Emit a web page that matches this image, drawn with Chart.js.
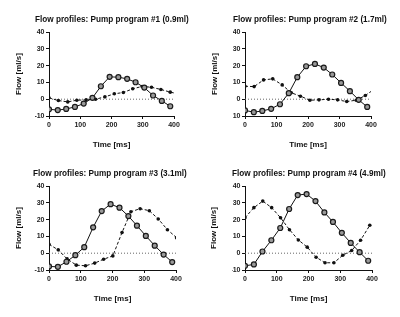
<!DOCTYPE html>
<html>
<head>
<meta charset="utf-8">
<script src="https://cdn.jsdelivr.net/npm/chart.js@4.4.1/dist/chart.umd.min.js"></script>
<style>
  html, body { margin: 0; padding: 0; background: #fff; }
  #wrap { position: relative; width: 400px; height: 317px; overflow: hidden; }
  .panel { position: absolute; }
</style>
</head>
<body>
<div id="wrap">
  <div class="panel" style="left:0;top:0;width:200px;height:154px;"><canvas id="c1"></canvas></div>
  <div class="panel" style="left:200px;top:0;width:200px;height:154px;"><canvas id="c2"></canvas></div>
  <div class="panel" style="left:0;top:154px;width:200px;height:163px;"><canvas id="c3"></canvas></div>
  <div class="panel" style="left:200px;top:154px;width:200px;height:163px;"><canvas id="c4"></canvas></div>
</div>
<script>
// ---- data ----
const titles = [
  'Flow profiles: Pump program #1 (0.9ml)',
  'Flow profiles: Pump program #2 (1.7ml)',
  'Flow profiles: Pump program #3 (3.1ml)',
  'Flow profiles: Pump program #4 (4.9ml)'
];

const xTicks = [0, 100, 200, 300, 400];
const yTicks = [-10, 0, 10, 20, 30, 40];

// solid series (grey circles), same time base in every panel
const solidTimes = [0, 28, 55, 83, 111, 139, 166, 194, 222, 250, 277, 305, 333, 361, 388];
const solid1 = [-6, -6.5, -5.8, -4.6, -2.6, 0.8, 7.7, 13.3, 13.1, 12.1, 10.1, 6.9, 2.2, -1, -4.2];
const solid2 = [-6.7, -7.7, -7, -5.7, -3, 3.6, 13.1, 19.6, 21, 18.8, 14.7, 9.7, 4.8, -0.4, -4.6];
const solid3 = [-7.9, -8.1, -5.1, -1.2, 3.6, 15.4, 25.1, 29.2, 27.1, 22.1, 16.4, 10.3, 4.5, -0.8, -5.3];
const solid4 = [-7.5, -6.7, 1, 7.7, 15, 26.3, 34.6, 35.2, 31, 24.3, 18.6, 12.1, 6.1, 0.6, -4.5];

// dashed series (small black dots)
const dashedTimes1 = [0, 30, 60, 89, 119, 149, 179, 209, 238, 268, 298, 328, 358, 388, 418];
const dashed1 = [0.8, -0.8, -1.6, -0.6, -0.4, 0, 1.4, 3.2, 4, 6.2, 7.6, 7.1, 5.8, 4.2, 3];
const dashedTimes2 = [0, 29, 59, 88, 118, 147, 176, 206, 235, 265, 294, 323, 353, 382, 412];
const dashed2 = [7.7, 7.5, 11.5, 12.1, 8.5, 3.8, 1.8, -0.6, -0.4, 0, -0.4, -1.4, -0.6, 2.2, 6.2];
const dashedTimes3 = [0, 29, 57, 86, 115, 144, 172, 201, 230, 258, 287, 316, 344, 373, 402];
const dashed3 = [5.3, 2, -3.4, -7.1, -7.5, -5.9, -3.6, -1.6, 12.3, 24.7, 26.5, 25.3, 20.4, 14, 9.2];
const dashedTimes4 = [0, 28, 56, 84, 112, 140, 168, 196, 224, 252, 280, 308, 336, 364, 393];
const dashed4 = [21.1, 27.1, 31, 27.1, 21.1, 14, 7.9, 3.6, -2.4, -5.7, -5.7, -1.2, 1.6, 7.7, 16.6];

const zeroLine = [0, 0];
const zeroTimes = [0, 400];

// ---- placement per panel ----
// titleLeft: where the title text starts, chartLeft: left edge of the plot area
const panels = [
  { id: 'c1', solid: solid1, dTimes: dashedTimes1, dashed: dashed1, titleLeft: 35, chartLeft: 49, right: 26, xAxisH: 38, xTitlePad: 4.2, yTitleX: 18.3 },
  { id: 'c2', solid: solid2, dTimes: dashedTimes2, dashed: dashed2, titleLeft: 33, chartLeft: 45, right: 29, xAxisH: 38, xTitlePad: 4.2, yTitleX: 15 },
  { id: 'c3', solid: solid3, dTimes: dashedTimes3, dashed: dashed3, titleLeft: 33, chartLeft: 49, right: 24, xAxisH: 47, xTitlePad: 13.2, yTitleX: 18.3 },
  { id: 'c4', solid: solid4, dTimes: dashedTimes4, dashed: dashed4, titleLeft: 32, chartLeft: 45, right: 28, xAxisH: 47, xTitlePad: 13.2, yTitleX: 14 }
];

const FONT = "'Liberation Sans', Arial, sans-serif";
const AXIS_TITLE_SIZE = 8;
const pts = (xs, ys) => xs.map((x, i) => ({ x, y: ys[i] }));

panels.forEach((p, idx) => {
  const yAxisW = p.chartLeft - p.titleLeft;
  // y title centre = scale.left + lineHeight/2 + padding.top
  const yTitlePad = p.yTitleX - p.titleLeft - AXIS_TITLE_SIZE * 1.2 / 2;

  new Chart(document.getElementById(p.id), {
    type: 'line',
    data: {
      datasets: [
        {
          data: pts(zeroTimes, zeroLine),
          borderColor: '#666',
          borderWidth: 1,
          borderDash: [1, 2],
          pointRadius: 0,
          fill: false,
          order: 3
        },
        {
          data: pts(p.dTimes, p.dashed),
          borderColor: '#111',
          borderWidth: 1,
          borderDash: [3, 2],
          pointRadius: 1.8,
          pointBackgroundColor: '#111',
          pointBorderWidth: 0,
          fill: false,
          order: 2
        },
        {
          data: pts(solidTimes, p.solid),
          borderColor: '#111',
          borderWidth: 1,
          pointRadius: 2.5,
          pointBackgroundColor: '#999',
          pointBorderColor: '#1a1a1a',
          pointBorderWidth: 1.2,
          fill: false,
          order: 1
        }
      ]
    },
    options: {
      responsive: true,
      maintainAspectRatio: false,
      animation: false,
      events: [],
      layout: { padding: { left: p.titleLeft, right: 0, top: 0, bottom: 0 } },
      plugins: {
        legend: { display: false },
        tooltip: { enabled: false },
        title: {
          display: true,
          text: titles[idx],
          align: 'start',
          color: '#111',
          font: { family: FONT, size: 8.2, weight: 'bold' },
          padding: { top: 15.1, bottom: 7.06 }
        }
      },
      scales: {
        x: {
          type: 'linear',
          min: 0,
          max: 400,
          afterFit: s => { s.height = p.xAxisH; },
          afterBuildTicks: s => { s.ticks = xTicks.map(v => ({ value: v })); },
          border: { color: '#111', width: 1 },
          grid: { drawOnChartArea: false, tickLength: 3, color: '#111', lineWidth: 1 },
          ticks: { color: '#222', padding: 2, maxRotation: 0, font: { family: FONT, size: 7, weight: 'bold' } },
          title: {
            display: true,
            text: 'Time [ms]',
            color: '#111',
            font: { family: FONT, size: AXIS_TITLE_SIZE, weight: 'bold' },
            padding: { top: 0, bottom: p.xTitlePad }
          }
        },
        y: {
          min: -10,
          max: 40,
          afterFit: s => { s.width = yAxisW; },
          afterBuildTicks: s => { s.ticks = yTicks.map(v => ({ value: v })); },
          border: { color: '#111', width: 1 },
          grid: { drawOnChartArea: false, tickLength: 3, color: '#111', lineWidth: 1 },
          ticks: { color: '#222', padding: 1.5, font: { family: FONT, size: 7, weight: 'bold' } },
          title: {
            display: true,
            text: 'Flow [ml/s]',
            color: '#111',
            font: { family: FONT, size: AXIS_TITLE_SIZE, weight: 'bold' },
            padding: { top: yTitlePad, bottom: 0 }
          }
        },
        // empty right-hand axis, only there to keep the right margin
        yRight: {
          position: 'right',
          min: -10,
          max: 40,
          afterFit: s => { s.width = p.right; },
          grid: { display: false },
          border: { display: false },
          ticks: { display: false }
        }
      }
    }
  });
});
</script>
</body>
</html>
